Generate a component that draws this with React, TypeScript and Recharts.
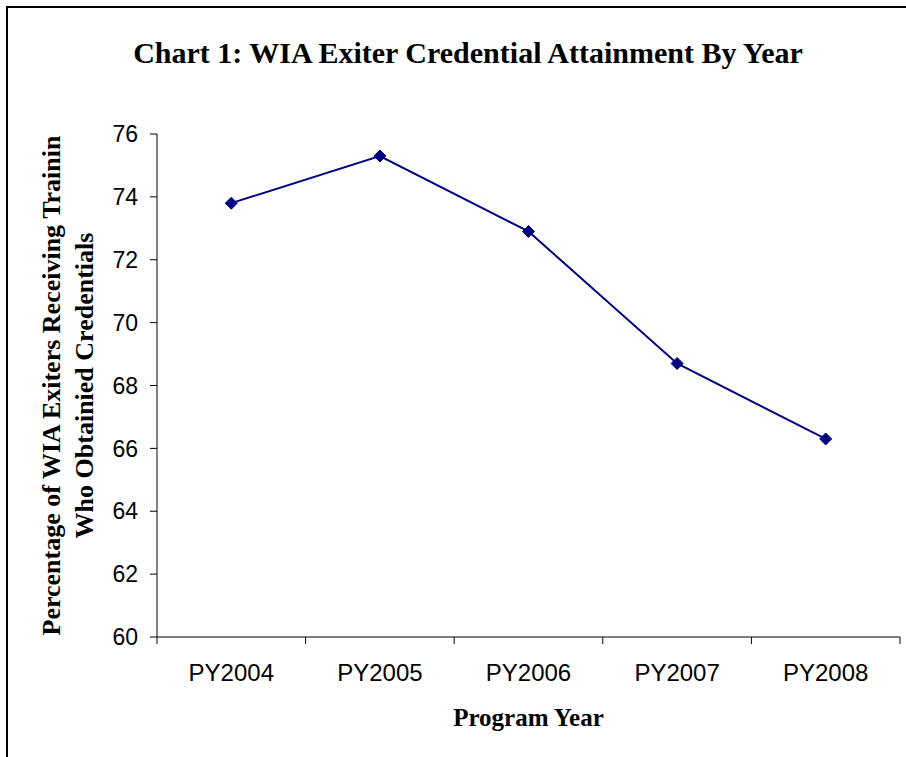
import React from 'react';
import { LineChart, Line, XAxis, YAxis, Label } from 'recharts';

const categories = ['PY2004', 'PY2005', 'PY2006', 'PY2007', 'PY2008'];
const values = [73.8, 75.3, 72.9, 68.7, 66.3];
const yTicks = [60, 62, 64, 66, 68, 70, 72, 74, 76];

const data = categories.map((c, i) => ({ pos: i + 0.5, name: c, value: values[i] }));
const boundaryTicks = categories.map((_, i) => i).concat([categories.length]);
const centerTicks = categories.map((_, i) => i + 0.5);

const SERIF = "'Liberation Serif', 'Times New Roman', serif";
const SANS = "'Liberation Sans', Arial, sans-serif";

const Diamond = (props: any) => {
  const { cx, cy } = props;
  if (cx == null || cy == null) return null;
  const r = 6;
  return (
    <path
      d={`M${cx},${cy - r}L${cx + r},${cy}L${cx},${cy + r}L${cx - r},${cy}Z`}
      fill="#000080"
      stroke="#000080"
    />
  );
};

const YLabel = (props: any) => {
  const vb = props.viewBox || {};
  const cy = vb.y + vb.height / 2;
  return (
    <g>
      <text
        x={51}
        y={cy}
        transform={`rotate(-90 51 ${cy})`}
        textAnchor="middle"
        dominantBaseline="central"
        fontFamily={SERIF}
        fontWeight="bold"
        fontSize={26}
        fill="#000"
      >
        Percentage of WIA Exiters Receiving Trainin
      </text>
      <text
        x={84}
        y={cy}
        transform={`rotate(-90 84 ${cy})`}
        textAnchor="middle"
        dominantBaseline="central"
        fontFamily={SERIF}
        fontWeight="bold"
        fontSize={26}
        fill="#000"
      >
        Who Obtainied Credentials
      </text>
    </g>
  );
};

export default function App() {
  return (
    <div style={{ position: 'absolute', left: 0, top: 0, width: 906, height: 757, background: '#fff' }}>
      <div
        style={{
          position: 'absolute',
          left: 6,
          top: 6,
          width: 920,
          height: 780,
          borderTop: '2px solid #000',
          borderLeft: '2px solid #000',
        }}
      />
      <div style={{ position: 'absolute', left: 0, top: 0 }}>
        <LineChart width={906} height={757} data={data} margin={{ top: 134, right: 6, bottom: 0, left: 0 }}>
          <text
            x={468}
            y={52}
            textAnchor="middle"
            dominantBaseline="central"
            fontFamily={SERIF}
            fontWeight="bold"
            fontSize={30}
            fill="#000"
          >
            Chart 1: WIA Exiter Credential Attainment By Year
          </text>
          <XAxis
            xAxisId="a"
            dataKey="pos"
            type="number"
            domain={[0, categories.length]}
            ticks={boundaryTicks}
            tickFormatter={() => ''}
            tickSize={7}
            stroke="#000"
            axisLine={{ stroke: '#000', strokeWidth: 1 }}
            tickLine={{ stroke: '#000' }}
            height={1}
            interval={0}
            allowDataOverflow
          />
          <XAxis
            xAxisId="b"
            dataKey="pos"
            type="number"
            domain={[0, categories.length]}
            ticks={centerTicks}
            tickFormatter={(v: number) => categories[Math.floor(v)]}
            axisLine={false}
            tickLine={false}
            tickMargin={20}
            tick={{ fontFamily: SANS, fontSize: 24, fill: '#000' }}
            height={119}
            interval={0}
          >
            <Label
              value="Program Year"
              position="insideBottom"
              offset={31}
              style={{ fontFamily: SERIF, fontWeight: 'bold', fontSize: 25, fill: '#000' }}
            />
          </XAxis>
          <YAxis
            domain={[60, 76]}
            ticks={yTicks}
            interval={0}
            width={157}
            tickSize={7}
            tickMargin={12}
            stroke="#000"
            tick={{ fontFamily: SANS, fontSize: 23, fill: '#000' }}
            axisLine={{ stroke: '#000' }}
            tickLine={{ stroke: '#000' }}
          >
            <Label content={<YLabel />} />
          </YAxis>
          <Line
            xAxisId="a"
            dataKey="value"
            stroke="#000080"
            strokeWidth={2}
            dot={<Diamond />}
            activeDot={false}
            isAnimationActive={false}
          />
        </LineChart>
      </div>
    </div>
  );
}
